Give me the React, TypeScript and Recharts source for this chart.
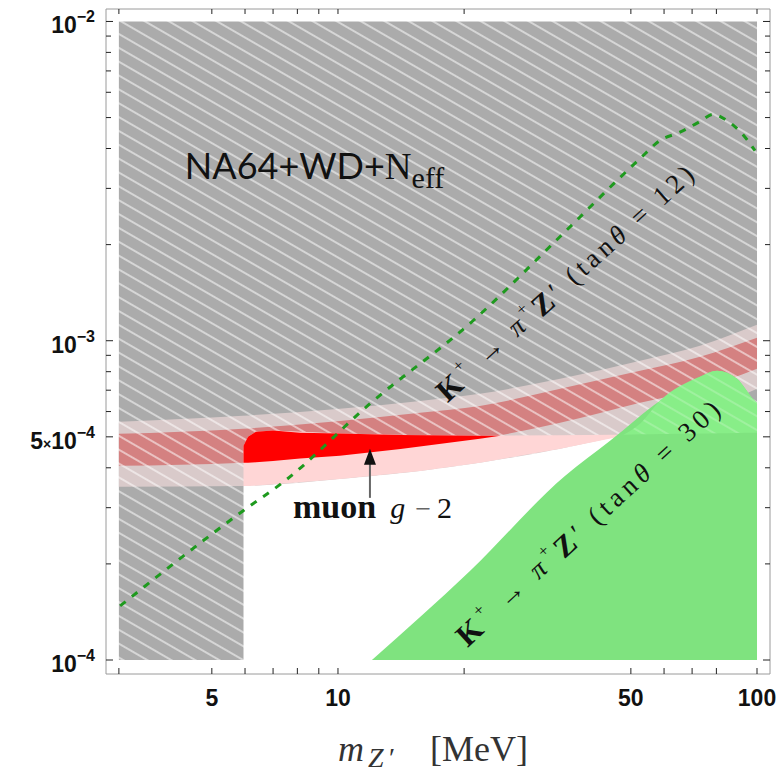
import React from 'react'
import {
  ComposedChart,
  Area,
  Line,
  XAxis,
  YAxis,
  ReferenceDot,
  ReferenceLine,
  Label,
} from 'recharts'

// axes (m_Z' in MeV, coupling g')
const X_TICKS = [3, 5, 6, 7, 8, 9, 10, 20, 50, 60, 70, 80, 100]
const X_LABELS = [5, 10, 50, 100]
const Y_TICKS = [
  1e-4, 2e-4, 3e-4, 4e-4, 5e-4, 6e-4, 7e-4, 8e-4, 9e-4,
  1e-3, 2e-3, 3e-3, 4e-3, 5e-3, 6e-3, 7e-3, 8e-3, 9e-3, 1e-2,
]
const Y_LABELS = [1e-2, 1e-3, 5e-4, 1e-4]
const X_DOMAIN = [2.795, 107.4]
const Y_DOMAIN = [9.04e-5, 1.094e-2]

// NA64 + WD + Neff excluded region (lower edge, top is the frame)
const Y_CEIL = 1e-2
const NA64_X = [3, 5.95, 5.95, 6.1, 6.37, 7.0, 8.12, 14.1, 24.4, 42.2, 100]
const NA64_LO = [1e-4, 1e-4, 4.69e-4, 5.0e-4, 5.19e-4, 5.23e-4, 5.15e-4, 5.07e-4, 5.04e-4, 5.07e-4, 5.15e-4]

// muon g-2 band
const BAND_X = [3, 5.93, 10.1, 15.7, 21.8, 33.9, 52.6, 73.1, 100]
const TWO_SIGMA_HI = [5.57e-4, 5.82e-4, 6.12e-4, 6.48e-4, 6.82e-4, 7.6e-4, 8.66e-4, 9.65e-4, 1.122e-3]
const ONE_SIGMA_HI = [5.11e-4, 5.3e-4, 5.61e-4, 5.95e-4, 6.25e-4, 7.07e-4, 8.05e-4, 8.91e-4, 1.022e-3]
const ONE_SIGMA_LO = [4.06e-4, 4.15e-4, 4.36e-4, 4.65e-4, 4.93e-4, 5.53e-4, 6.39e-4, 7.07e-4, 8.17e-4]
const TWO_SIGMA_LO = [3.49e-4, 3.51e-4, 3.69e-4, 3.91e-4, 4.15e-4, 4.59e-4, 5.22e-4, 5.95e-4, 7.07e-4]

// allowed part of the band (not covered by NA64)
const RED_X = [5.95, 6.1, 6.37, 7.0, 8.12, 10.1, 14.1, 21.8, 24.4]
const RED_LO = [4.15e-4, 4.15e-4, 4.16e-4, 4.2e-4, 4.28e-4, 4.36e-4, 4.58e-4, 4.93e-4, 5.04e-4]
const RED_HI = [4.69e-4, 5.0e-4, 5.19e-4, 5.23e-4, 5.15e-4, 5.12e-4, 5.07e-4, 5.04e-4, 5.04e-4]
const PINK_X = [5.95, 6.1, 6.37, 7.0, 10.1, 15.7, 21.8, 33.9, 45, 49]
const PINK_LO = [3.51e-4, 3.51e-4, 3.52e-4, 3.55e-4, 3.69e-4, 3.91e-4, 4.15e-4, 4.59e-4, 4.95e-4, 5.08e-4]
const PINK_HI = [4.69e-4, 5.0e-4, 5.19e-4, 5.23e-4, 5.12e-4, 5.06e-4, 5.04e-4, 5.06e-4, 5.08e-4, 5.08e-4]

// K+ -> pi+ Z' (tan = 30) excluded region
const KAON30_X = [12.05, 20.65, 34.8, 44.6, 58.7, 73.1, 80.3, 89.6, 97.8, 100]
const KAON30_HI = [1e-4, 1.9e-4, 3.77e-4, 4.86e-4, 6.49e-4, 7.71e-4, 8.05e-4, 7.6e-4, 6.58e-4, 6.39e-4]
const KAON30_TOP_X = [48, 52.6, 58.7, 73.1, 80.3, 89.6, 97.8, 100]
const KAON30_TOP_LO = [5.08e-4, 5.09e-4, 5.1e-4, 5.12e-4, 5.13e-4, 5.14e-4, 5.15e-4, 5.15e-4]
const KAON30_TOP_HI = [5.08e-4, 5.5e-4, 6.49e-4, 7.71e-4, 8.05e-4, 7.6e-4, 6.58e-4, 6.39e-4]

// K+ -> pi+ Z' (tan = 12) dashed bound
const KAON12_X = [3.02, 5.93, 7.47, 11.92, 21.0, 33.9, 52.6, 58.7, 65.5, 73.1, 78.5, 84.8, 92.0, 98.9]
const KAON12_Y = [1.477e-4, 2.93e-4, 3.64e-4, 6.35e-4, 1.155e-3, 2.12e-3, 3.72e-3, 4.24e-3, 4.5e-3, 4.86e-3, 5.12e-3, 4.89e-3, 4.46e-3, 3.94e-3]

const range = (xs: number[], lo: number[], hi: number[]) =>
  xs.map((x, i) => ({ x, r: [lo[i], hi[i]] }))

const na64Data = NA64_X.map((x, i) => ({ x, r: [NA64_LO[i], Y_CEIL] }))
const twoSigmaData = range(BAND_X, TWO_SIGMA_LO, TWO_SIGMA_HI)
const oneSigmaData = range(BAND_X, ONE_SIGMA_LO, ONE_SIGMA_HI)
const redData = range(RED_X, RED_LO, RED_HI)
const pinkData = range(PINK_X, PINK_LO, PINK_HI)
const kaon30Data = KAON30_X.map((x, i) => ({ x, r: [1e-4, KAON30_HI[i]] }))
const kaon30TopData = range(KAON30_TOP_X, KAON30_TOP_LO, KAON30_TOP_HI)
const kaon12Data = KAON12_X.map((x, i) => ({ x, y: KAON12_Y[i] }))

const SANS = 'Liberation Sans, Arial, sans-serif'
const SERIF = 'Liberation Serif, Times New Roman, serif'
const TICK = '#222'

const BottomTick = (props: any) => {
  const { x, y, payload } = props
  return (
    <g>
      <line x1={x} x2={x} y1={y} y2={y - 6} stroke={TICK} />
      {X_LABELS.includes(payload.value) && (
        <text x={x} y={y + 32} textAnchor="middle" fontFamily={SANS} fontWeight="bold" fontSize={23} fill="#111">
          {payload.value}
        </text>
      )}
    </g>
  )
}

const TopTick = (props: any) => {
  const { x, y } = props
  return <line x1={x} x2={x} y1={y} y2={y + 5} stroke={TICK} />
}

const LeftTick = (props: any) => {
  const { x, y, payload } = props
  const v = payload.value
  const major = Y_LABELS.includes(v)
  const exp = Math.floor(Math.log10(v) + 1e-9)
  const mant = Math.round(v / Math.pow(10, exp))
  return (
    <g>
      <line x1={x} x2={x + (major ? 7 : 5)} y1={y} y2={y} stroke={TICK} />
      {major && (
        <text x={x - 11} y={y + 12} textAnchor="end" fontFamily={SANS} fontWeight="bold" fontSize={23} fill="#111">
          {mant !== 1 && <tspan>{mant}</tspan>}
          {mant !== 1 && <tspan fontSize={14}>×</tspan>}
          <tspan>10</tspan>
          <tspan dy={-11} fontSize={16}>{'\u2212' + Math.abs(exp)}</tspan>
        </text>
      )}
    </g>
  )
}

const RightTick = (props: any) => {
  const { x, y, payload } = props
  const major = Y_LABELS.includes(payload.value)
  return <line x1={x} x2={x - (major ? 7 : 5)} y1={y} y2={y} stroke={TICK} />
}

const AxisTitle = (props: any) => {
  const { viewBox } = props
  const c = viewBox.x + viewBox.width / 2
  const b = viewBox.y + 87
  return (
    <text y={b} fontFamily={SERIF} fontSize={36} fill="#333">
      <tspan x={c - 100} fontStyle="italic">m</tspan>
      <tspan x={c - 70} dy={6} fontSize={28} fontStyle="italic">Z</tspan>
      <tspan x={c - 49} fontSize={28}>{'\u2032'}</tspan>
      <tspan x={c - 8} dy={-6}>[MeV]</tspan>
    </text>
  )
}

const kaonLabel = (tan: string, len: number, angle: number) => (props: any) => {
  const { cx, cy } = props
  return (
    <text
      x={cx}
      y={cy}
      transform={`rotate(${angle} ${cx} ${cy})`}
      textAnchor="middle"
      dominantBaseline="central"
      fontFamily={SERIF}
      fontSize={27}
      fill="#111"
      textLength={len}
      lengthAdjust="spacing"
    >
      <tspan fontWeight="bold" fontSize={31}>K</tspan>
      <tspan dy={-10} fontSize={17}>+</tspan>
      <tspan dy={10}> {'\u2192'} </tspan>
      <tspan fontStyle="italic">{'\u03c0'}</tspan>
      <tspan dy={-10} fontSize={17}>+</tspan>
      <tspan dy={10} fontWeight="bold" fontSize={30}>Z</tspan>
      <tspan>{'\u2032'} (tan</tspan>
      <tspan fontStyle="italic">{'\u03b8'}</tspan>
      <tspan> = {tan})</tspan>
    </text>
  )
}

const na64Label = (props: any) => {
  const { cx, cy } = props
  return (
    <text x={cx} y={cy} fill="#111">
      <tspan fontFamily="Lato, sans-serif" fontSize={36}>NA64+WD+</tspan>
      <tspan fontFamily={SERIF} fontSize={37}>N</tspan>
      <tspan fontFamily={SERIF} fontSize={30} dy={9}>eff</tspan>
    </text>
  )
}

const muonLabel = (props: any) => {
  const { cx, cy } = props
  return (
    <text x={cx} y={cy} fontFamily={SERIF} fontSize={34} fill="#111">
      <tspan fontWeight="bold">muon</tspan>
      <tspan dx={14} fontStyle="italic" fontSize={30}>g</tspan>
      <tspan dx={10} fontSize={28} fill="#666">{'\u2212'}</tspan>
      <tspan dx={6} fontSize={30}>2</tspan>
    </text>
  )
}

const arrowHead = (props: any) => {
  const { cx, cy } = props
  return <path d={`M${cx},${cy} L${cx - 6},${cy + 16} L${cx + 6},${cy + 16} Z`} fill="#111" />
}

const hatch = (id: string, bg: string, line: string, op: number) => (
  <pattern id={id} patternUnits="userSpaceOnUse" width={24} height={12} patternTransform="rotate(30)">
    <rect width={24} height={12} fill={bg} />
    <line x1={0} y1={6} x2={24} y2={6} stroke={line} strokeOpacity={op} strokeWidth={1.3} />
  </pattern>
)

export default function App() {
  return (
    <div style={{ position: 'absolute', left: 0, top: 0, background: '#fff' }}>
      <ComposedChart width={781} height={780} margin={{ top: 0, right: 0, bottom: 0, left: 0 }}>
        <defs>
          {hatch('hGray', '#ababab', '#ffffff', 0.8)}
          {hatch('hLight', '#d9caca', '#ffffff', 0.8)}
          {hatch('hDark', '#d48181', '#ffffff', 0.8)}
          {hatch('hGreen', '#88ee88', '#ffffff', 0.3)}
        </defs>
        <XAxis
          dataKey="x"
          type="number"
          scale="log"
          domain={X_DOMAIN}
          allowDataOverflow
          ticks={X_TICKS}
          interval={0}
          tick={BottomTick}
          tickLine={false}
          tickSize={0}
          tickMargin={0}
          height={106}
          axisLine={{ stroke: '#9a9a9a' }}
        >
          <Label content={AxisTitle} />
        </XAxis>
        <XAxis
          xAxisId="top"
          orientation="top"
          dataKey="x"
          type="number"
          scale="log"
          domain={X_DOMAIN}
          allowDataOverflow
          ticks={X_TICKS}
          interval={0}
          tick={TopTick}
          tickLine={false}
          tickSize={0}
          tickMargin={0}
          height={9}
          axisLine={{ stroke: '#9a9a9a' }}
        />
        <YAxis
          type="number"
          scale="log"
          domain={Y_DOMAIN}
          allowDataOverflow
          ticks={Y_TICKS}
          interval={0}
          tick={LeftTick}
          tickLine={false}
          tickSize={0}
          tickMargin={0}
          width={106}
          axisLine={{ stroke: '#9a9a9a' }}
        />
        <YAxis
          yAxisId="right"
          orientation="right"
          type="number"
          scale="log"
          domain={Y_DOMAIN}
          allowDataOverflow
          ticks={Y_TICKS}
          interval={0}
          tick={RightTick}
          tickLine={false}
          tickSize={0}
          tickMargin={0}
          width={11}
          axisLine={{ stroke: '#9a9a9a' }}
        />

        <Area data={na64Data} dataKey="r" type="linear" stroke="none" fill="url(#hGray)" fillOpacity={1} isAnimationActive={false} activeDot={false} />
        <Area data={twoSigmaData} dataKey="r" type="monotone" stroke="none" fill="url(#hLight)" fillOpacity={1} isAnimationActive={false} activeDot={false} />
        <Area data={oneSigmaData} dataKey="r" type="monotone" stroke="none" fill="url(#hDark)" fillOpacity={1} isAnimationActive={false} activeDot={false} />
        <Area data={pinkData} dataKey="r" type="linear" stroke="none" fill="#ffd6d6" fillOpacity={1} isAnimationActive={false} activeDot={false} />
        <Area data={redData} dataKey="r" type="linear" stroke="none" fill="#ff0000" fillOpacity={1} isAnimationActive={false} activeDot={false} />
        <Area data={kaon30Data} dataKey="r" type="monotone" stroke="none" fill="#7fe37f" fillOpacity={1} isAnimationActive={false} activeDot={false} />
        <Area data={kaon30TopData} dataKey="r" type="monotone" stroke="none" fill="url(#hGreen)" fillOpacity={1} isAnimationActive={false} activeDot={false} />

        <Line
          data={kaon12Data}
          dataKey="y"
          type="monotone"
          stroke="#1e9a1e"
          strokeWidth={3}
          strokeDasharray="7 8"
          dot={false}
          activeDot={false}
          isAnimationActive={false}
        />

        <ReferenceLine
          segment={[{ x: 11.92, y: 3.22e-4 }, { x: 11.92, y: 4.4e-4 }]}
          stroke="#666"
          strokeWidth={2}
        />
        <ReferenceDot x={11.92} y={4.59e-4} r={0} shape={arrowHead} />
        <ReferenceDot x={7.81} y={2.79e-4} r={0} shape={muonLabel} />
        <ReferenceDot x={4.31} y={3.22e-3} r={0} shape={na64Label} />
        <ReferenceDot x={34.8} y={1.52e-3} r={0} shape={kaonLabel('12', 336, -42)} />
        <ReferenceDot x={39.5} y={2.69e-4} r={0} shape={kaonLabel('30', 347, -42.5)} />
      </ComposedChart>
    </div>
  )
}
